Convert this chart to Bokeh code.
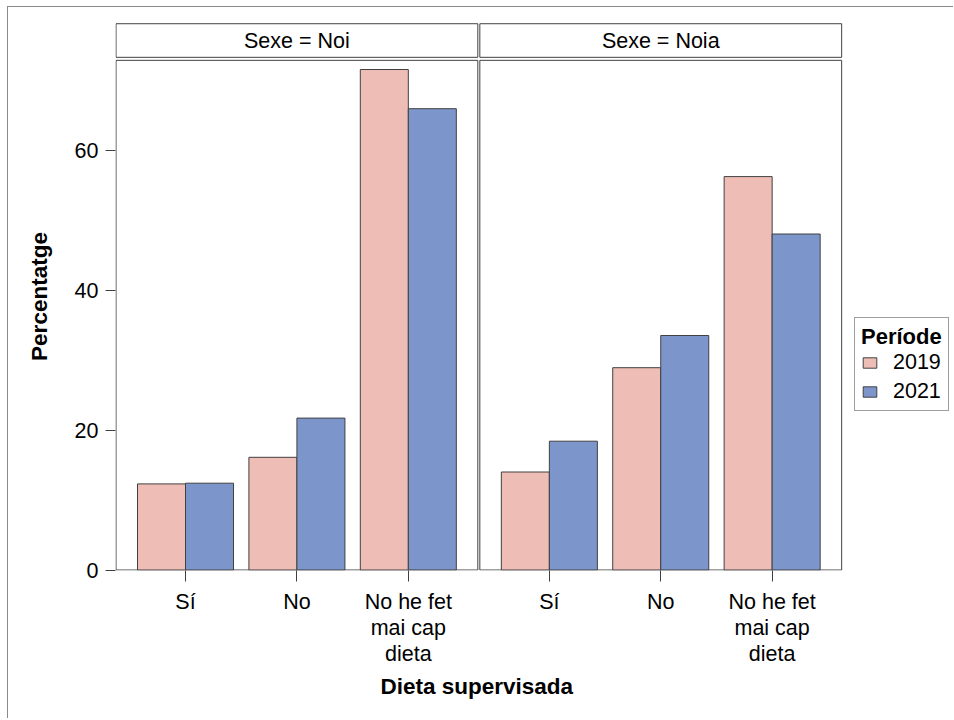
from bokeh.plotting import figure
from bokeh.models import FixedTicker, Legend, LegendItem, ColumnDataSource, Title
from bokeh.core.properties import value
from bokeh.embed import file_html
from bokeh.resources import INLINE

# ---------------- data ----------------
categories = ["Sí", "No", "No he fet\nmai cap\ndieta"]
sexes = ["Noi", "Noia"]
years = ["2019", "2021"]
noi_2019 = [12.3, 16.1, 71.5]
noi_2021 = [12.4, 21.7, 65.9]
noia_2019 = [14.0, 28.9, 56.2]
noia_2021 = [18.4, 33.5, 48.0]
y_ticks = [0, 20, 40, 60]

series = {
    ("Noi", "2019"): noi_2019,
    ("Noi", "2021"): noi_2021,
    ("Noia", "2019"): noia_2019,
    ("Noia", "2021"): noia_2021,
}
colors = {"2019": "#EEBDB5", "2021": "#7C96CB"}

FONT = "Liberation Sans"
EDGE = "#404040"
TXT = "21.5px"
BOLD = "22.5px"

# ---------------- layout constants ----------------
PX = 111.4          # px per category unit
PY = 7.0            # px per percent
FRAME_W, FRAME_H = 839, 548
MARGIN = 0.624
GAP = 0.018
PANEL_W = 2 + 2 * MARGIN
OFFSET = PANEL_W + GAP
BW = 0.431
x_start = -MARGIN - 0.5 / PX
x_end = x_start + FRAME_W / PX
y_start = -0.5 / PY
y_end = y_start + FRAME_H / PY
panel_top = 72.81
header_bottom = 73.24
header_top = 78.04

p = figure(width=946, height=712, output_backend="svg", toolbar_location=None,
           x_range=(x_start, x_end), y_range=(y_start, y_end),
           min_border_left=107, min_border_right=0, min_border_top=15,
           min_border_bottom=149, margin=(7, 0, 0, 8),
           styles={"box-shadow": "-1px -1px 0 0 #8a8a8a"})
p.outline_line_color = None
p.xgrid.visible = False
p.ygrid.visible = False
p.background_fill_color = "white"
p.border_fill_color = "white"

# panel boxes and header strips
for s, sex in enumerate(sexes):
    left = s * OFFSET - MARGIN
    right = left + PANEL_W
    p.quad(left=[left], right=[right], bottom=[0], top=[panel_top],
           fill_color=None, line_color=EDGE, line_width=1)
    p.quad(left=[left], right=[right], bottom=[header_bottom], top=[header_top],
           fill_color="white", line_color=EDGE, line_width=1)
    p.text(x=[s * OFFSET + 1], y=[(header_bottom + header_top) / 2],
           text=["Sexe = " + sex], text_align="center", text_baseline="middle",
           text_font=value(FONT), text_font_size=TXT, text_color="black")

# bars
legend_items = []
for s, sex in enumerate(sexes):
    for k, yr in enumerate(years):
        xs = [s * OFFSET + i + (k - 0.5) * BW for i in range(len(categories))]
        src = ColumnDataSource(dict(x=xs, top=series[(sex, yr)]))
        r = p.vbar(x="x", top="top", bottom=0, width=BW, source=src,
                   fill_color=colors[yr], line_color=EDGE, line_width=1)
        if s == 0:
            legend_items.append(LegendItem(label=yr, renderers=[r]))

# axes
tick_pos = []
overrides = {}
for s in range(len(sexes)):
    for i, c in enumerate(categories):
        t = round(s * OFFSET + i, 4)
        tick_pos.append(t)
        overrides[t] = c

xa = p.xaxis[0]
xa.ticker = FixedTicker(ticks=tick_pos, minor_ticks=[])
xa.major_label_overrides = overrides
xa.axis_line_color = None
xa.major_tick_line_color = EDGE
xa.major_tick_in = 0
xa.major_tick_out = 11
xa.minor_tick_line_color = None
xa.major_label_text_font = FONT
xa.major_label_text_font_size = TXT
xa.major_label_text_color = "black"
xa.major_label_text_line_height = 1.1
xa.major_label_standoff = 8

# x-axis title, centred under the two panels
xtitle = Title(text="Dieta supervisada", align="left", offset=265,
               text_font=FONT, text_font_size=BOLD, text_font_style="bold",
               text_color="black", standoff=4)
p.add_layout(xtitle, "below")

ya = p.yaxis[0]
ya.ticker = FixedTicker(ticks=y_ticks, minor_ticks=[])
ya.axis_line_color = None
ya.major_tick_line_color = EDGE
ya.major_tick_in = 0
ya.major_tick_out = 10
ya.minor_tick_line_color = None
ya.major_label_text_font = FONT
ya.major_label_text_font_size = TXT
ya.major_label_text_color = "black"
ya.major_label_standoff = 7
ya.axis_label = "Percentatge"
ya.axis_label_text_font = FONT
ya.axis_label_text_font_size = BOLD
ya.axis_label_text_font_style = "bold"
ya.axis_label_text_color = "black"
ya.axis_label_standoff = 20

legend = Legend(items=legend_items, location=(739, 159), title="Període",
                orientation="vertical", margin=0, padding=6,
                border_line_color=EDGE, border_line_width=1,
                background_fill_color="white", background_fill_alpha=1,
                title_text_font=FONT, title_text_font_size="22px",
                title_text_font_style="bold", title_text_color="black",
                title_standoff=0,
                label_text_font=FONT, label_text_font_size=TXT,
                label_text_color="black",
                glyph_width=17, glyph_height=13, label_standoff=15, spacing=4)
p.add_layout(legend, "center")

open("out.html", "w").write(file_html(p, INLINE))
